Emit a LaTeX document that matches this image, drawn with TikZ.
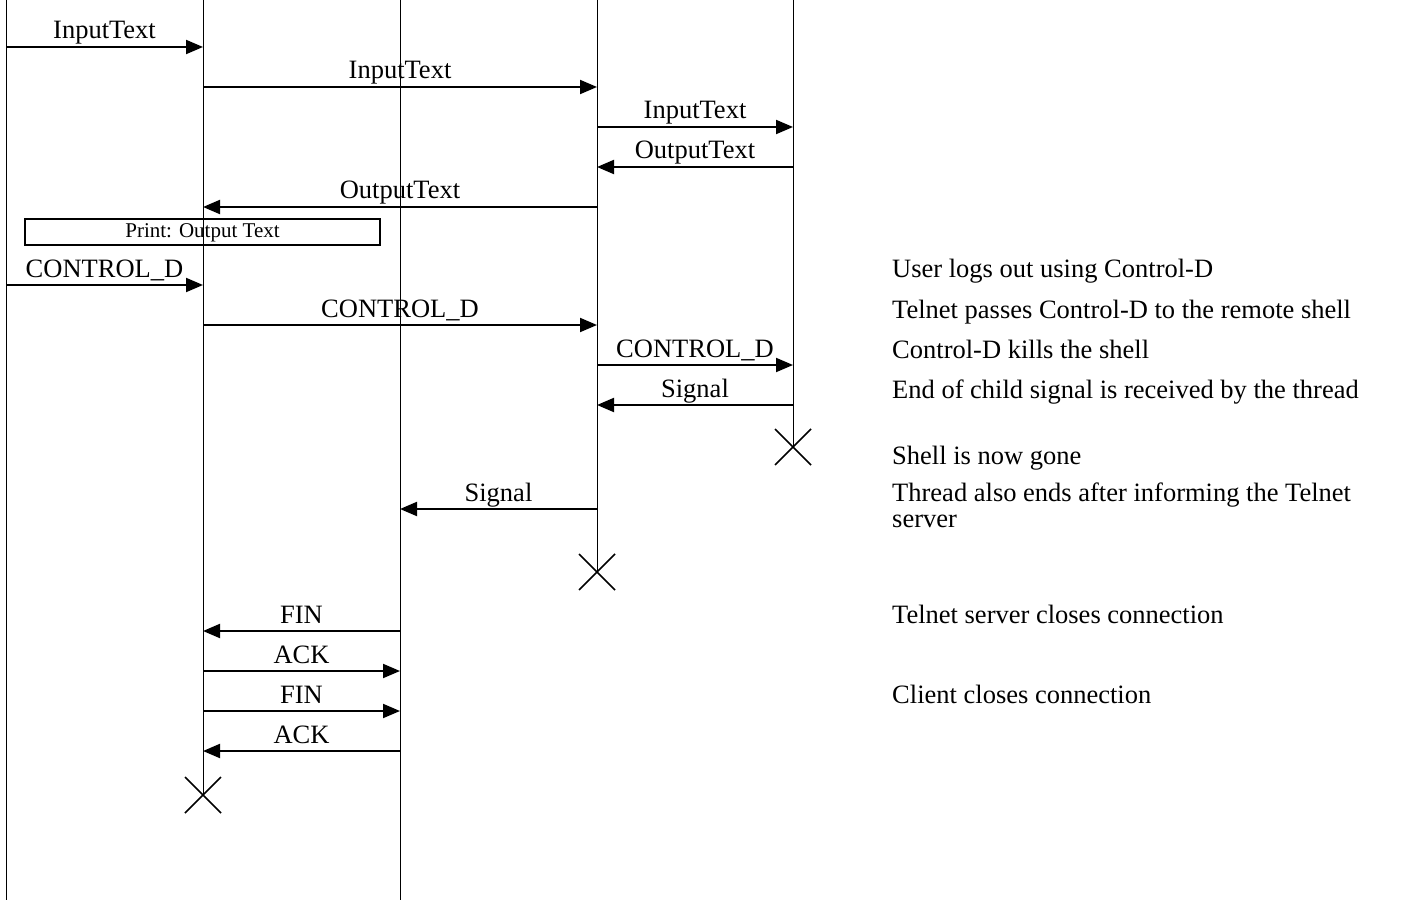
\documentclass[tikz,border=0pt]{standalone}
\usepackage{fontspec}
\setmainfont{Liberation Serif}
\usetikzlibrary{arrows.meta}

\begin{document}
\begin{tikzpicture}[x=1pt, y=-1pt,
    font=\fontsize{26.5}{26}\selectfont,
    life/.style={line width=1pt},
    msg/.style={line width=2pt, -{Triangle[length=17pt, width=14pt]}},
    lbl/.style={anchor=base, yshift=8pt, inner sep=0pt},
    note/.style={anchor=base west, inner sep=0pt, align=left},
    gone/.style={line width=1.6pt},
    printbox/.style={draw, line width=2pt, minimum width=355pt, minimum height=26pt,
        inner sep=0pt, text depth=2pt, font=\fontsize{21}{21}\selectfont}]
    \useasboundingbox (0,0) rectangle (1421,909);

    % Lifelines
    \coordinate (user) at (6,0);
    \coordinate (client) at (203,0);
    \coordinate (server) at (400,0);
    \coordinate (thread) at (597,0);
    \coordinate (shell) at (793,0);
    \coordinate (userend) at (6,900);
    \coordinate (clientend) at (203,795);
    \coordinate (serverend) at (400,900);
    \coordinate (threadend) at (597,572);
    \coordinate (shellend) at (793,447);
    \draw[life] (user) -- (userend);
    \draw[life] (client) -- (clientend);
    \draw[life] (server) -- (serverend);
    \draw[life] (thread) -- (threadend);
    \draw[life] (shell) -- (shellend);

    % Normal session
    \draw[msg] (user |- 0,47) -- node[lbl] {InputText} (client |- 0,47);
    \draw[msg] (client |- 0,87) -- node[lbl] {InputText} (thread |- 0,87);
    \draw[msg] (thread |- 0,127) -- node[lbl] {InputText} (shell |- 0,127);
    \draw[msg] (shell |- 0,167) -- node[lbl] {OutputText} (thread |- 0,167);
    \draw[msg] (thread |- 0,207) -- node[lbl] {OutputText} (client |- 0,207);
    \node[printbox] (print) at (202.5,232) {Print: Output Text};

    % Logging out
    \draw[msg] (user |- 0,285) -- node[lbl] {CONTROL\_D} (client |- 0,285);
    \draw[msg] (client |- 0,325) -- node[lbl] {CONTROL\_D} (thread |- 0,325);
    \draw[msg] (thread |- 0,365) -- node[lbl] {CONTROL\_D} (shell |- 0,365);
    \draw[msg] (shell |- 0,405) -- node[lbl] {Signal} (thread |- 0,405);
    \draw[gone] (shellend) +(-18,-18) -- +(18,18) +(-18,18) -- +(18,-18);
    \draw[msg] (thread |- 0,509) -- node[lbl] {Signal} (server |- 0,509);
    \draw[gone] (threadend) +(-18,-18) -- +(18,18) +(-18,18) -- +(18,-18);

    % Closing the connection
    \draw[msg] (server |- 0,631) -- node[lbl] {FIN} (client |- 0,631);
    \draw[msg] (client |- 0,671) -- node[lbl] {ACK} (server |- 0,671);
    \draw[msg] (client |- 0,711) -- node[lbl] {FIN} (server |- 0,711);
    \draw[msg] (server |- 0,751) -- node[lbl] {ACK} (client |- 0,751);
    \draw[gone] (clientend) +(-18,-18) -- +(18,18) +(-18,18) -- +(18,-18);

    % Notes
    \node[note] (n1) at (892,278) {User logs out using Control-D};
    \node[note] (n2) at (892,318) {Telnet passes Control-D to the remote shell};
    \node[note] (n3) at (892,358) {Control-D kills the shell};
    \node[note] (n4) at (892,398) {End of child signal is received by the thread};
    \node[note] (n5) at (892,464) {Shell is now gone};
    \node[note] (n6) at (892,527) {Thread also ends after informing the Telnet\\server};
    \node[note] (n7) at (892,623) {Telnet server closes connection};
    \node[note] (n8) at (892,703) {Client closes connection};
\end{tikzpicture}
\end{document}
